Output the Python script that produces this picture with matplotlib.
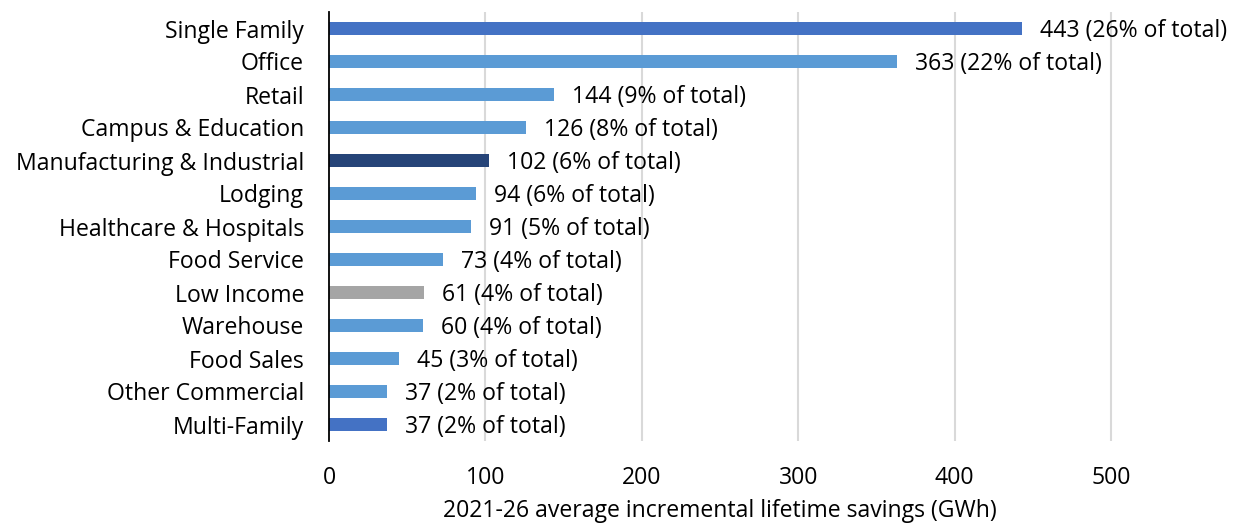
import matplotlib
matplotlib.use("Agg")
import matplotlib.pyplot as plt

categories = ["Single Family", "Office", "Retail", "Campus & Education",
              "Manufacturing & Industrial", "Lodging", "Healthcare & Hospitals",
              "Food Service", "Low Income", "Warehouse", "Food Sales",
              "Other Commercial", "Multi-Family"]
savings = [443, 363, 144, 126, 102, 94, 91, 73, 61, 60, 45, 37, 37]
share_pct = [26, 22, 9, 8, 6, 6, 5, 4, 4, 4, 3, 2, 2]
colors = ["#4472C4", "#5B9BD5", "#5B9BD5", "#5B9BD5", "#264478", "#5B9BD5",
          "#5B9BD5", "#5B9BD5", "#A5A5A5", "#5B9BD5", "#5B9BD5", "#5B9BD5",
          "#4472C4"]
x_ticks = [0, 100, 200, 300, 400, 500]

plt.rcParams["font.family"] = ["Open Sans", "DejaVu Sans"]
FS = 16.6

fig = plt.figure(figsize=(12.33, 5.26), dpi=100)
ax = fig.add_axes([329 / 1233, 1 - 441 / 526, (1205 - 329) / 1233, 429 / 526])

y = list(range(len(categories)))
ax.barh(y, savings, height=0.37, color=colors, zorder=3)
for yi, v, p in zip(y, savings, share_pct):
    ax.annotate(f"{v} ({p}% of total)", (v, yi), xytext=(13, -1.5),
                textcoords="offset points", va="center", ha="left",
                fontsize=FS, color="#000000")

ax.set_ylim(len(categories) - 0.5, -0.5)
ax.set_xlim(0, 560)
ax.set_yticks(y)
ax.set_yticklabels(categories, fontsize=FS)
ax.set_xticks(x_ticks)
ax.set_xticklabels([str(t) for t in x_ticks], fontsize=FS)
ax.tick_params(axis="both", length=0)
ax.tick_params(axis="x", pad=18)
ax.tick_params(axis="y", pad=18)

for s in ["top", "right", "bottom"]:
    ax.spines[s].set_visible(False)
ax.spines["left"].set_color("#000000")
ax.spines["left"].set_linewidth(1.3)
ax.spines["left"].set_zorder(4)

for t in x_ticks[1:]:
    ax.axvline(t, color="#D9D9D9", linewidth=1.5, zorder=1)

fig.text(720 / 1233, 1 - 511 / 526,
         "2021-26 average incremental lifetime savings (GWh)",
         ha="center", va="center", fontsize=FS)

fig.savefig("out.png", dpi=100)
